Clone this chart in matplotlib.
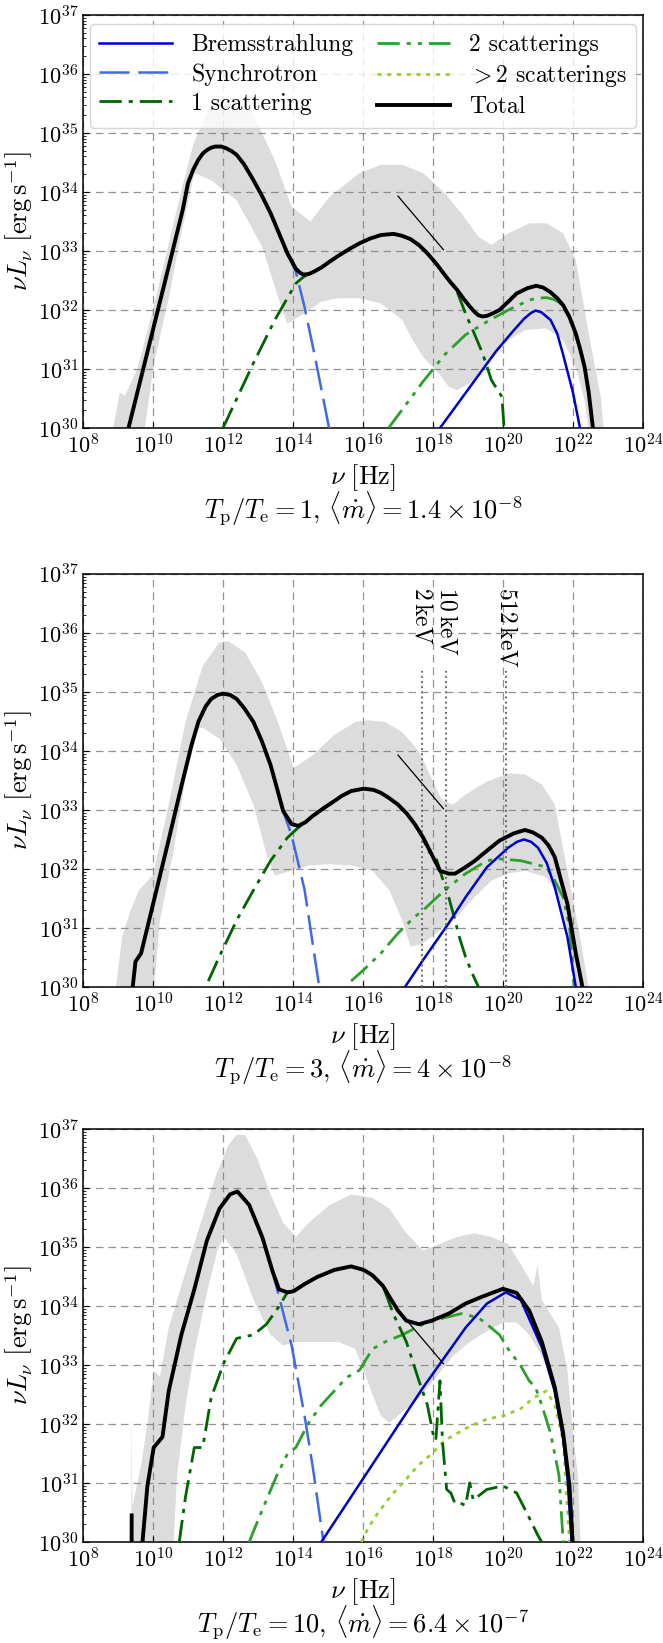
import matplotlib.pyplot as plt
import numpy as np
from matplotlib.lines import Line2D
from matplotlib.ticker import LogLocator, NullLocator

plt.rcParams['font.family'] = 'serif'
plt.rcParams['font.serif'] = ['cmr10', 'DejaVu Serif']
plt.rcParams['mathtext.fontset'] = 'cm'
plt.rcParams['axes.formatter.use_mathtext'] = True
plt.rcParams['font.size'] = 16

# all values are log10(nu / Hz) and log10(nu L_nu / erg s^-1)

# ---- panel 1: Tp/Te = 1
p1_tot_x = [9.30, 9.72, 10.14, 10.56, 10.85, 11.0, 11.15, 11.3, 11.42, 11.54, 11.66, 11.78, 11.95, 12.1,
            12.25, 12.39, 12.6, 12.87, 13.1, 13.36, 13.6, 13.84, 14.08, 14.2, 14.3, 14.45, 14.6, 14.81,
            15.05, 15.30, 15.6, 15.90, 16.2, 16.51, 16.87, 17.1, 17.36, 17.6, 17.84, 18.1, 18.33, 18.5,
            18.69, 18.9, 19.05, 19.2, 19.30, 19.42, 19.54, 19.7, 19.90, 20.15, 20.39, 20.7, 20.95,
            21.15, 21.36, 21.55, 21.72, 21.9, 22.08, 22.2, 22.33, 22.45, 22.57]
p1_tot_y = [30.0, 31.0, 32.0, 33.0, 33.7, 34.15, 34.38, 34.55, 34.65, 34.71, 34.75, 34.77, 34.77,
            34.74, 34.69, 34.63, 34.47, 34.2, 33.95, 33.64, 33.3, 32.96, 32.7, 32.63, 32.6, 32.61,
            32.65, 32.72, 32.82, 32.92, 33.03, 33.13, 33.21, 33.27, 33.29, 33.26, 33.2, 33.1, 32.96,
            32.78, 32.6, 32.47, 32.34, 32.17, 32.06, 31.96, 31.91, 31.89, 31.9, 31.94, 32.0, 32.14,
            32.28, 32.37, 32.41, 32.38, 32.3, 32.2, 32.08, 31.88, 31.6, 31.35, 31.04, 30.6, 30.0]
p1_brems_x = [18.2, 19.0, 19.8, 20.3, 20.6, 20.8, 20.93, 21.1, 21.36, 21.55, 21.72, 22.0, 22.2]
p1_brems_y = [30.0, 30.65, 31.3, 31.65, 31.85, 31.95, 31.99, 31.96, 31.83, 31.6, 31.24, 30.6, 30.0]
p1_sync_x = [13.36, 13.84, 14.08, 14.33, 14.63, 15.03, 15.1]
p1_sync_y = [33.64, 32.96, 32.65, 32.05, 31.2, 30.0, 29.7]
p1_sc1_x = [12.0, 12.87, 13.48, 14.08, 14.3, 14.45, 14.6, 14.81, 15.05, 15.30, 15.6, 15.90, 16.2, 16.51,
            16.87, 17.1, 17.36, 17.6, 17.84, 18.1, 18.33, 18.5, 18.63, 18.93, 19.18, 19.42, 19.67,
            19.85, 19.97, 20.03]
p1_sc1_y = [30.0, 31.1, 31.83, 32.45, 32.56, 32.61, 32.65, 32.72, 32.82, 32.92, 33.03, 33.13, 33.21,
            33.27, 33.29, 33.26, 33.2, 33.1, 32.96, 32.78, 32.6, 32.47, 32.4, 31.94, 31.6, 31.26,
            30.81, 30.64, 30.53, 30.0]
p1_sc2_x = [16.73, 17.72, 18.33, 18.93, 19.54, 20.15, 20.76, 21.0, 21.24, 21.45, 21.6, 21.72, 21.9,
            22.08, 22.2, 22.33, 22.45, 22.57]
p1_sc2_y = [30.0, 30.79, 31.24, 31.58, 31.8, 32.0, 32.17, 32.2, 32.21, 32.18, 32.13, 32.06, 31.86,
            31.58, 31.33, 31.02, 30.58, 30.0]
p1_band_up_x = [8.8, 9.05, 9.2, 9.55, 10.0, 10.4, 10.8, 11.15, 11.5, 11.9, 12.3, 12.87, 13.48, 13.96,
                14.5, 15.05, 15.9, 16.51, 17.12, 17.72, 18.33, 18.81, 19.30, 19.67, 20.15, 20.76, 21.24,
                21.72, 22.08, 22.45, 22.8, 22.9]
p1_band_up_y = [29.8, 30.6, 30.55, 31.0, 32.0, 33.0, 34.0, 34.8, 35.3, 35.6, 35.62, 35.3, 34.54, 33.75,
                33.5, 33.92, 34.32, 34.46, 34.46, 34.32, 33.98, 33.64, 33.24, 33.1, 33.3, 33.47, 33.47,
                33.3, 32.85, 31.6, 30.5, 29.8]
p1_band_lo_x = [9.72, 10.02, 10.45, 10.81, 11.18, 11.66, 12.39, 13.12, 13.6, 13.84, 14.33, 14.81, 15.3,
                15.9, 16.51, 17.12, 17.42, 17.72, 18.09, 18.45, 18.69, 19.18, 19.67, 20.15, 20.64, 21.24,
                21.72, 22.08, 22.33, 22.5]
p1_band_lo_y = [29.8, 31.07, 32.2, 33.3, 34.32, 34.2, 33.86, 33.07, 32.17, 31.77, 31.94, 32.14, 32.2,
                32.2, 32.11, 31.83, 31.49, 31.2, 30.98, 30.7, 30.64, 30.81, 31.15, 31.49, 31.66, 31.69,
                31.49, 31.04, 30.47, 29.8]

# ---- panel 2: Tp/Te = 3
p2_tot_x = [9.42, 9.5, 9.66, 10.0, 10.45, 10.81, 11.1, 11.3, 11.5, 11.66, 11.85, 12.0, 12.2, 12.39, 12.6,
            12.87, 13.1, 13.36, 13.55, 13.72, 13.96, 14.15, 14.35, 14.57, 14.9, 15.18, 15.4, 15.66, 16.02,
            16.3, 16.51, 16.75, 17.0, 17.25, 17.48, 17.72, 17.96, 18.2, 18.45, 18.63, 18.93, 19.2, 19.42,
            19.9, 20.3, 20.51, 20.63, 20.85, 21.11, 21.3, 21.48, 21.84, 22.08, 22.27]
p2_tot_y = [30.0, 30.43, 30.57, 31.4, 32.5, 33.4, 34.1, 34.5, 34.75, 34.88, 34.95, 34.97, 34.95, 34.88,
            34.73, 34.49, 34.18, 33.76, 33.35, 32.98, 32.76, 32.73, 32.79, 32.9, 33.04, 33.15, 33.24,
            33.32, 33.36, 33.34, 33.29, 33.2, 33.09, 32.94, 32.76, 32.53, 32.25, 31.97, 31.92, 31.92,
            32.03, 32.14, 32.25, 32.48, 32.6, 32.64, 32.66, 32.62, 32.53, 32.4, 32.2, 31.41, 30.57, 30.0]
p2_brems_x = [17.2, 17.72, 18.45, 18.93, 19.54, 20.15, 20.4, 20.6, 20.8, 21.0, 21.25, 21.48, 21.84, 22.08]
p2_brems_y = [30.0, 30.46, 31.08, 31.52, 32.03, 32.36, 32.46, 32.5, 32.46, 32.36, 32.1, 31.69, 30.85, 30.0]
p2_sync_x = [13.36, 13.55, 13.72, 13.96, 14.33, 14.75, 14.8]
p2_sync_y = [33.76, 33.35, 32.98, 32.57, 31.65, 30.0, 29.8]
p2_sc1_x = [11.58, 11.9, 12.39, 12.87, 13.36, 13.84, 14.15, 14.35, 14.57, 14.9, 15.18, 15.4, 15.66, 16.02,
            16.3, 16.51, 16.75, 17.0, 17.25, 17.48, 17.72, 17.84, 18.08, 18.26, 18.45, 18.63, 18.75, 18.93,
            19.12, 19.3]
p2_sc1_y = [30.1, 30.52, 31.13, 31.64, 32.14, 32.53, 32.7, 32.79, 32.9, 33.04, 33.15, 33.24, 33.32,
            33.36, 33.34, 33.29, 33.2, 33.09, 32.94, 32.76, 32.53, 32.31, 32.2, 31.86, 31.52, 31.13,
            30.85, 30.51, 30.23, 30.0]
p2_sc2_x = [15.66, 16.02, 16.51, 17.0, 17.48, 17.72, 18.33, 18.93, 19.54, 19.9, 20.51, 21.24, 21.48,
            21.72, 21.9, 22.03]
p2_sc2_y = [30.1, 30.29, 30.57, 30.91, 31.19, 31.3, 31.64, 31.92, 32.14, 32.17, 32.14, 32.03, 31.8,
            31.52, 31.02, 30.0]
p2_band_up_x = [8.9, 9.12, 9.36, 9.6, 10.0, 10.45, 10.93, 11.42, 11.9, 12.15, 12.63, 13.12, 13.6, 14.02,
                14.57, 15.18, 15.78, 16.15, 16.63, 17.12, 17.6, 17.96, 18.27, 18.57, 18.93, 19.54, 20.15,
                20.63, 21.11, 21.48, 21.84, 22.2, 22.5]
p2_band_up_y = [29.8, 30.85, 31.3, 31.64, 31.9, 33.09, 34.49, 35.44, 35.84, 35.86, 35.67, 35.16, 34.44,
                33.71, 33.93, 34.27, 34.49, 34.52, 34.49, 34.32, 33.99, 33.54, 33.15, 33.09, 33.26, 33.48,
                33.62, 33.6, 33.43, 33.09, 31.97, 30.85, 29.8]
p2_band_lo_x = [10.0, 10.2, 10.57, 10.93, 11.3, 11.42, 11.9, 12.39, 12.87, 13.24, 13.48, 13.96, 14.45,
                15.05, 15.66, 16.27, 16.75, 17.12, 17.36, 17.72, 18.2, 18.69, 19.18, 19.67, 20.15, 20.63,
                21.24, 21.6, 21.9, 22.08]
p2_band_lo_y = [29.8, 31.13, 32.25, 33.54, 34.38, 34.39, 34.21, 33.76, 33.09, 32.25, 31.89, 31.97, 32.06,
                32.08, 32.06, 31.97, 31.64, 31.13, 30.68, 30.74, 30.96, 31.19, 31.52, 31.8, 31.92, 31.97,
                31.86, 31.52, 30.85, 29.8]

# ---- panel 3: Tp/Te = 10
p3_tot_x = [9.39, 9.39, np.nan, 9.7, 9.84, 10.02, 10.27, 10.45, 10.81, 11.18, 11.54, 11.9, 12.2, 12.41,
            12.75, 13.12, 13.42, 13.6, 13.84, 14.02, 14.33, 14.69, 15.18, 15.66, 16.02, 16.27, 16.57,
            16.75, 17.0, 17.24, 17.6, 17.96, 18.45, 18.93, 19.42, 20.0, 20.39, 20.75, 21.11, 21.48,
            21.72, 21.9, 21.99]
p3_tot_y = [30.45, 29.8, np.nan, 30.0, 30.95, 31.6, 31.78, 32.56, 33.51, 34.28, 35.11, 35.65, 35.89,
            35.94, 35.71, 35.17, 34.58, 34.28, 34.23, 34.25, 34.37, 34.49, 34.61, 34.67, 34.61, 34.52,
            34.34, 34.16, 33.92, 33.75, 33.69, 33.75, 33.87, 34.04, 34.16, 34.29, 34.22, 33.92, 33.39,
            32.62, 31.84, 30.95, 30.0]
p3_brems_x = [14.81, 16.0, 17.72, 18.93, 19.54, 20.08, 20.51, 21.11, 21.48, 21.72, 21.84, 21.96]
p3_brems_y = [30.0, 31.07, 32.62, 33.63, 34.04, 34.23, 34.1, 33.3, 32.55, 31.75, 31.1, 30.0]
p3_sync_x = [13.36, 13.6, 13.96, 14.33, 14.57, 14.87, 14.9]
p3_sync_y = [34.7, 34.16, 33.33, 32.14, 31.25, 30.0, 29.8]
p3_sc1_x = [10.75, 10.93, 11.18, 11.42, 11.66, 12.02, 12.39, 12.87, 13.24, 13.6, 13.84, 14.02, 14.33,
            14.69, 15.18, 15.66, 16.02, 16.27, 16.57, 16.87, 17.24, 17.6, 17.84, 18.02, 18.08, 18.2, 18.27,
            18.39, 18.51, 18.63, 18.81, 18.93, 19.05, 19.15, 19.54, 20.0, 20.39, 20.75, 20.99, 21.2]
p3_sc1_y = [30.0, 30.77, 31.6, 31.6, 32.44, 33.03, 33.45, 33.51, 33.69, 33.99, 34.23, 34.25, 34.37,
            34.49, 34.61, 34.67, 34.61, 34.52, 34.34, 33.86, 33.39, 32.73, 32.32, 31.78, 31.72, 32.73,
            31.72, 30.89, 30.83, 30.65, 30.65, 30.62, 31.0, 30.71, 30.89, 30.95, 30.83, 30.41, 30.12, 29.9]
p3_sc2_x = [12.75, 12.87, 13.24, 13.54, 13.84, 14.08, 14.45, 14.81, 15.18, 15.54, 15.9, 16.27, 16.63,
            17.12, 17.72, 18.33, 18.81, 19.3, 19.54, 19.9, 20.15, 20.51, 20.75, 20.93, 21.11, 21.36,
            21.6, 21.72]
p3_sc2_y = [30.0, 30.18, 30.71, 31.13, 31.49, 31.6, 32.02, 32.32, 32.56, 32.79, 32.91, 33.27, 33.39,
            33.51, 33.69, 33.8, 33.87, 33.8, 33.69, 33.51, 33.27, 32.98, 32.73, 32.62, 32.32, 31.84,
            31.13, 30.0]
p3_sc3_x = [15.96, 16.15, 16.33, 16.63, 16.87, 17.24, 17.6, 17.96, 18.33, 18.69, 19.05, 19.54, 20.02,
            20.51, 20.87, 21.24, 21.48, 21.72, 21.9]
p3_sc3_y = [30.0, 30.24, 30.41, 30.65, 30.83, 31.07, 31.31, 31.49, 31.72, 31.84, 31.96, 32.08, 32.14,
            32.26, 32.44, 32.56, 32.32, 31.72, 30.0]
p3_band_up_x = [9.3, 9.38, 9.39, 9.41, 9.66, 9.84, 10.02, 10.2, 10.45, 10.81, 11.3, 11.78, 12.15,
                12.39, 12.63, 12.99, 13.36, 13.72, 14.08, 14.45, 15.05, 15.66, 16.27, 16.75, 17.24,
                17.72, 18.2, 18.69, 19.18, 19.67, 20.15, 20.51, 20.87, 20.99, 21.11, 21.6, 21.84, 22.02,
                22.14, 22.23]
p3_band_up_y = [29.8, 30.5, 32.26, 30.6, 31.3, 32.0, 32.9, 32.8, 33.63, 34.34, 35.29, 36.18, 36.72,
                36.9, 36.9, 36.48, 35.89, 35.41, 35.17, 35.41, 35.71, 35.89, 35.83, 35.65, 35.23,
                34.94, 35.05, 35.17, 35.23, 35.17, 35.05, 34.7, 34.34, 34.7, 34.1, 33.63, 32.91, 31.72,
                31.13, 29.8]
p3_band_lo_x = [10.57, 10.69, 10.93, 11.18, 11.54, 11.84, 12.02, 12.39, 12.87, 13.36, 13.72, 14.08,
                14.69, 15.3, 15.78, 16.02, 16.27, 16.51, 16.75, 17.12, 17.6, 18.09, 18.57, 19.05, 19.54,
                20.02, 20.39, 20.75, 21.11, 21.48, 21.72, 21.9, 21.96]
p3_band_lo_y = [29.8, 31.13, 32.32, 33.21, 34.22, 34.94, 35.17, 34.88, 34.11, 33.51, 33.33, 33.39,
                33.39, 33.39, 33.27, 32.91, 32.5, 32.14, 32.02, 32.2, 32.44, 32.79, 33.15, 33.39, 33.57,
                33.72, 33.72, 33.51, 33.15, 32.62, 31.96, 30.83, 29.8]

# thin reference power-law segment (same in every panel)
slope_x = [17.0, 18.3]
slope_y = [33.93, 33.02]

# energy markers in panel 2
kev_values = [2, 10, 512]
kev_labels = [r'$2\,\mathrm{keV}$', r'$10\,\mathrm{keV}$', r'$512\,\mathrm{keV}$']
kev_to_hz = 2.418e17

titles = [r'$T_\mathrm{p}/T_\mathrm{e}=1$, $\langle\dot{m}\rangle = 1.4\times10^{-8}$',
          r'$T_\mathrm{p}/T_\mathrm{e}=3$, $\langle\dot{m}\rangle = 4\times10^{-8}$',
          r'$T_\mathrm{p}/T_\mathrm{e}=10$, $\langle\dot{m}\rangle = 6.4\times10^{-7}$']

styles = {
    'brems': dict(color='mediumblue', lw=1.8, ls='-'),
    'sync': dict(color='royalblue', lw=1.8, dashes=(12, 3.5)),
    'sc1': dict(color='darkgreen', lw=2.0, dashes=(8, 2.5, 1.5, 2.5)),
    'sc2': dict(color='#2ca02c', lw=2.0, dashes=(8, 2.5, 1.5, 2.5, 1.5, 2.5)),
    'sc3': dict(color='yellowgreen', lw=2.0, dashes=(1.5, 2)),
    'tot': dict(color='black', lw=2.8, ls='-'),
}
names = {'brems': 'Bremsstrahlung', 'sync': 'Synchrotron', 'sc1': '1 scattering',
         'sc2': '2 scatterings', 'sc3': r'$>2$ scatterings', 'tot': 'Total'}


def lg(v):
    return 10 ** np.asarray(v, dtype=float)


def draw_panel(ax, band_up, band_lo, curves):
    ux, uy = band_up
    lx, ly = band_lo
    ax.fill(lg(list(ux) + list(lx)[::-1]), lg(list(uy) + list(ly)[::-1]),
            color='gainsboro', lw=0, zorder=1)
    for key in ['sc3', 'sc2', 'sc1', 'sync', 'brems', 'tot']:
        if key in curves:
            x, y = curves[key]
            ax.plot(lg(x), lg(y), zorder=5 if key == 'tot' else 3, **styles[key])
    ax.plot(lg(slope_x), lg(slope_y), color='black', lw=0.9, zorder=4)

    ax.set_xscale('log')
    ax.set_yscale('log')
    ax.set_xlim(1e8, 1e24)
    ax.set_ylim(1e30, 1e37)
    ax.set_xticks([10.0 ** k for k in range(8, 25, 2)])
    ax.xaxis.set_minor_locator(NullLocator())
    ax.yaxis.set_major_locator(LogLocator(base=10, numticks=20))
    ax.yaxis.set_minor_locator(LogLocator(base=10, subs=np.arange(2, 10), numticks=20))
    ax.tick_params(which='both', direction='in', labelsize=16)
    ax.tick_params(which='major', length=4)
    ax.tick_params(which='minor', length=2.5)
    ax.grid(True, which='major', color='gray', ls=(0, (6, 4)), lw=0.9, alpha=0.85)
    ax.set_xlabel(r'$\nu\ [\mathrm{Hz}]$', fontsize=19, labelpad=4)
    ax.set_ylabel(r'$\nu L_\nu\ \left[\mathrm{erg\,s^{-1}}\right]$', fontsize=19, labelpad=2)
    for s in ax.spines.values():
        s.set_linewidth(1.1)


fig = plt.figure(figsize=(6.63, 16.43), dpi=100)
bottoms = [0.7395, 0.3993, 0.0615]
axes = [fig.add_axes([0.1252, b, 0.8446, 0.2514]) for b in bottoms]

draw_panel(axes[0], (p1_band_up_x, p1_band_up_y), (p1_band_lo_x, p1_band_lo_y),
           {'brems': (p1_brems_x, p1_brems_y), 'sync': (p1_sync_x, p1_sync_y),
            'sc1': (p1_sc1_x, p1_sc1_y), 'sc2': (p1_sc2_x, p1_sc2_y), 'tot': (p1_tot_x, p1_tot_y)})
draw_panel(axes[1], (p2_band_up_x, p2_band_up_y), (p2_band_lo_x, p2_band_lo_y),
           {'brems': (p2_brems_x, p2_brems_y), 'sync': (p2_sync_x, p2_sync_y),
            'sc1': (p2_sc1_x, p2_sc1_y), 'sc2': (p2_sc2_x, p2_sc2_y), 'tot': (p2_tot_x, p2_tot_y)})
draw_panel(axes[2], (p3_band_up_x, p3_band_up_y), (p3_band_lo_x, p3_band_lo_y),
           {'brems': (p3_brems_x, p3_brems_y), 'sync': (p3_sync_x, p3_sync_y),
            'sc1': (p3_sc1_x, p3_sc1_y), 'sc2': (p3_sc2_x, p3_sc2_y), 'sc3': (p3_sc3_x, p3_sc3_y),
            'tot': (p3_tot_x, p3_tot_y)})

# keV markers
for kev, lab in zip(kev_values, kev_labels):
    nu = kev * kev_to_hz
    axes[1].plot([nu, nu], [1e30, 10 ** 35.36], color='dimgray', ls=':', lw=1.4, zorder=4)
    axes[1].text(nu, 10 ** 36.77, lab, rotation=-90, ha='center', va='top', fontsize=17)

for ax, t in zip(axes, titles):
    ax.text(0.5, -0.195, t, transform=ax.transAxes, ha='center', va='center', fontsize=19)

handles = [Line2D([], [], **styles[k]) for k in ['brems', 'sync', 'sc1', 'sc2', 'sc3', 'tot']]
labels = [names[k] for k in ['brems', 'sync', 'sc1', 'sc2', 'sc3', 'tot']]
axes[0].legend(handles, labels, ncol=2, loc='upper center', fontsize=17, handlelength=3.1,
               columnspacing=1.0, borderaxespad=0.4, labelspacing=0.3, handletextpad=0.8)

fig.savefig('out.png', dpi=100)
